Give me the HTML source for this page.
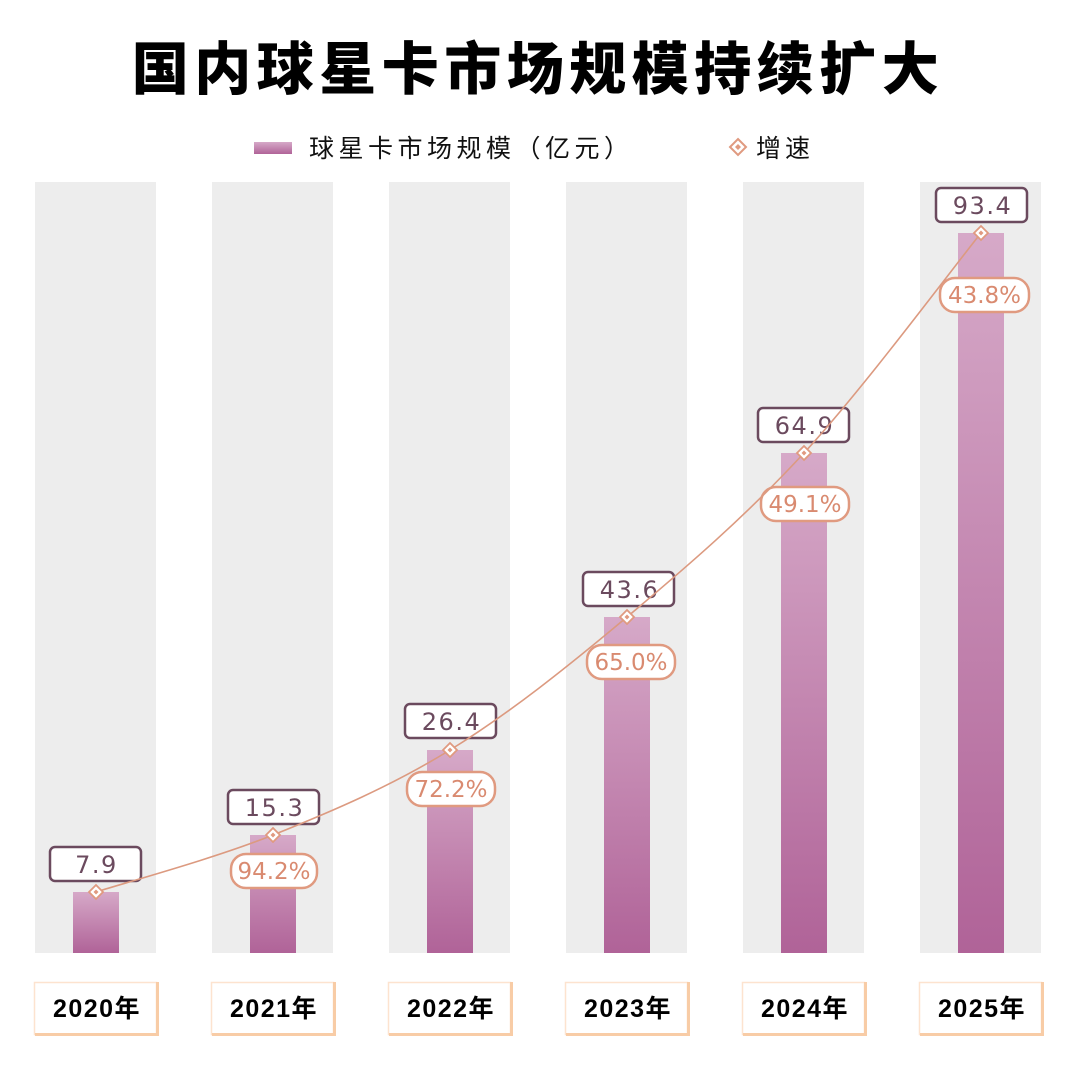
<!DOCTYPE html>
<html>
<head>
<meta charset="utf-8">
<style>
html,body{margin:0;padding:0;background:#fff;}
svg{display:block;}
</style>
</head>
<body>
<svg width="1080" height="1078" viewBox="0 0 1080 1078" xmlns="http://www.w3.org/2000/svg">
<defs>
<linearGradient id="bg" x1="0" y1="0" x2="0" y2="1">
<stop offset="0" stop-color="#d6a9c8"/>
<stop offset="1" stop-color="#b06398"/>
</linearGradient>
</defs>
<rect width="1080" height="1078" fill="#fff"/>

<!-- title -->
<text x="538" y="89" text-anchor="middle" font-family="'Noto Sans CJK SC','WenQuanYi Zen Hei',sans-serif" font-weight="900" font-size="57" letter-spacing="5.5" fill="#000">国内球星卡市场规模持续扩大</text>

<!-- legend -->
<rect x="254" y="142" width="38" height="12" fill="url(#bg)"/>
<text x="309" y="157" font-family="'Liberation Sans','Noto Sans CJK SC',sans-serif" font-size="25" letter-spacing="4.5" fill="#111">球星卡市场规模（亿元）</text>
<path d="M738 139 L746 147 L738 155 L730 147 Z" fill="#fff" stroke="#e09a80" stroke-width="2"/>
<path d="M738 144 L741 147 L738 150 L735 147 Z" fill="#e09a80"/>
<text x="756" y="157" font-family="'Liberation Sans','Noto Sans CJK SC',sans-serif" font-size="25" letter-spacing="4" fill="#111">增速</text>

<!-- background columns -->
<g fill="#ededed">
<rect x="35" y="182" width="121" height="771"/>
<rect x="212" y="182" width="121" height="771"/>
<rect x="389" y="182" width="121" height="771"/>
<rect x="566" y="182" width="121" height="771"/>
<rect x="743" y="182" width="121" height="771"/>
<rect x="920" y="182" width="121" height="771"/>
</g>

<!-- bars -->
<g fill="url(#bg)">
<rect x="73" y="892" width="46" height="61"/>
<rect x="250" y="835" width="46" height="118"/>
<rect x="427" y="750" width="46" height="203"/>
<rect x="604" y="617" width="46" height="336"/>
<rect x="781" y="453" width="46" height="500"/>
<rect x="958" y="233" width="46" height="720"/>
</g>

<!-- x labels -->
<g>
<g fill="#fff" stroke="#fde3cf" stroke-width="1.5">
<rect x="34.5" y="982.5" width="122" height="52"/>
<rect x="211.5" y="982.5" width="122" height="52"/>
<rect x="388.5" y="982.5" width="122" height="52"/>
<rect x="565.5" y="982.5" width="122" height="52"/>
<rect x="742.5" y="982.5" width="122" height="52"/>
<rect x="919.5" y="982.5" width="122" height="52"/>
</g>
<g stroke="#f8cca6" stroke-width="3" fill="none">
<path d="M35 1034.5 H157.5 V982"/>
<path d="M212 1034.5 H334.5 V982"/>
<path d="M389 1034.5 H511.5 V982"/>
<path d="M566 1034.5 H688.5 V982"/>
<path d="M743 1034.5 H865.5 V982"/>
<path d="M920 1034.5 H1042.5 V982"/>
</g>
<g font-family="'Liberation Sans','Noto Sans CJK SC',sans-serif" font-weight="bold" font-size="25" letter-spacing="1.5" fill="#000" text-anchor="middle">
<text x="97" y="1017">2020年</text>
<text x="274" y="1017">2021年</text>
<text x="451" y="1017">2022年</text>
<text x="628" y="1017">2023年</text>
<text x="805" y="1017">2024年</text>
<text x="982" y="1017">2025年</text>
</g>
</g>

<!-- value labels -->
<g fill="#fff" stroke="#6b4a5e" stroke-width="2.5">
<rect x="50" y="847" width="91" height="34" rx="5"/>
<rect x="228" y="790" width="91" height="34" rx="5"/>
<rect x="405" y="704" width="91" height="34" rx="5"/>
<rect x="583" y="572" width="91" height="34" rx="5"/>
<rect x="758" y="408" width="91" height="34" rx="5"/>
<rect x="936" y="188" width="91" height="34" rx="5"/>
</g>
<g font-family="'DejaVu Sans','Liberation Sans',sans-serif" font-size="24" letter-spacing="1.5" fill="#6b4a5e" text-anchor="middle">
<text x="96.5" y="873">7.9</text>
<text x="274.5" y="816">15.3</text>
<text x="451.5" y="730">26.4</text>
<text x="629.5" y="598">43.6</text>
<text x="804.5" y="434">64.9</text>
<text x="982.5" y="214">93.4</text>
</g>

<!-- percent labels -->
<g fill="#fff" stroke="#e09a80" stroke-width="2.5">
<rect x="231" y="854" width="86" height="34" rx="15"/>
<rect x="407" y="772" width="88" height="34" rx="15"/>
<rect x="587" y="645" width="88" height="34" rx="15"/>
<rect x="761" y="487" width="88" height="34" rx="15"/>
<rect x="940" y="278" width="89" height="34" rx="15"/>
</g>
<g font-family="'DejaVu Sans','Liberation Sans',sans-serif" font-size="23" letter-spacing="0" fill="#d98a70" text-anchor="middle">
<text x="274" y="879">94.2%</text>
<text x="451" y="797">72.2%</text>
<text x="631" y="670">65.0%</text>
<text x="805" y="512">49.1%</text>
<text x="984.5" y="303">43.8%</text>
</g>

<!-- growth line -->
<path d="M96 892 C125.5 882.5 214 858.7 273 835 C332 811.3 391 786.3 450 750 C509 713.7 568 666.5 627 617 C686 567.5 745 517 804 453 C863 389 951.5 269.7 981 233" fill="none" stroke="#dc9a80" stroke-width="1.6"/>

<!-- markers -->
<g fill="#fff" stroke="#e09a80" stroke-width="1.8">
<path d="M96 885 L103 892 L96 899 L89 892 Z"/>
<path d="M273 828 L280 835 L273 842 L266 835 Z"/>
<path d="M450 743 L457 750 L450 757 L443 750 Z"/>
<path d="M627 610 L634 617 L627 624 L620 617 Z"/>
<path d="M804 446 L811 453 L804 460 L797 453 Z"/>
<path d="M981 226 L988 233 L981 240 L974 233 Z"/>
</g>
<g fill="#e09a80">
<path d="M96 889.5 L98.5 892 L96 894.5 L93.5 892 Z"/>
<path d="M273 832.5 L275.5 835 L273 837.5 L270.5 835 Z"/>
<path d="M450 747.5 L452.5 750 L450 752.5 L447.5 750 Z"/>
<path d="M627 614.5 L629.5 617 L627 619.5 L624.5 617 Z"/>
<path d="M804 450.5 L806.5 453 L804 455.5 L801.5 453 Z"/>
<path d="M981 230.5 L983.5 233 L981 235.5 L978.5 233 Z"/>
</g>
</svg>
</body>
</html>
